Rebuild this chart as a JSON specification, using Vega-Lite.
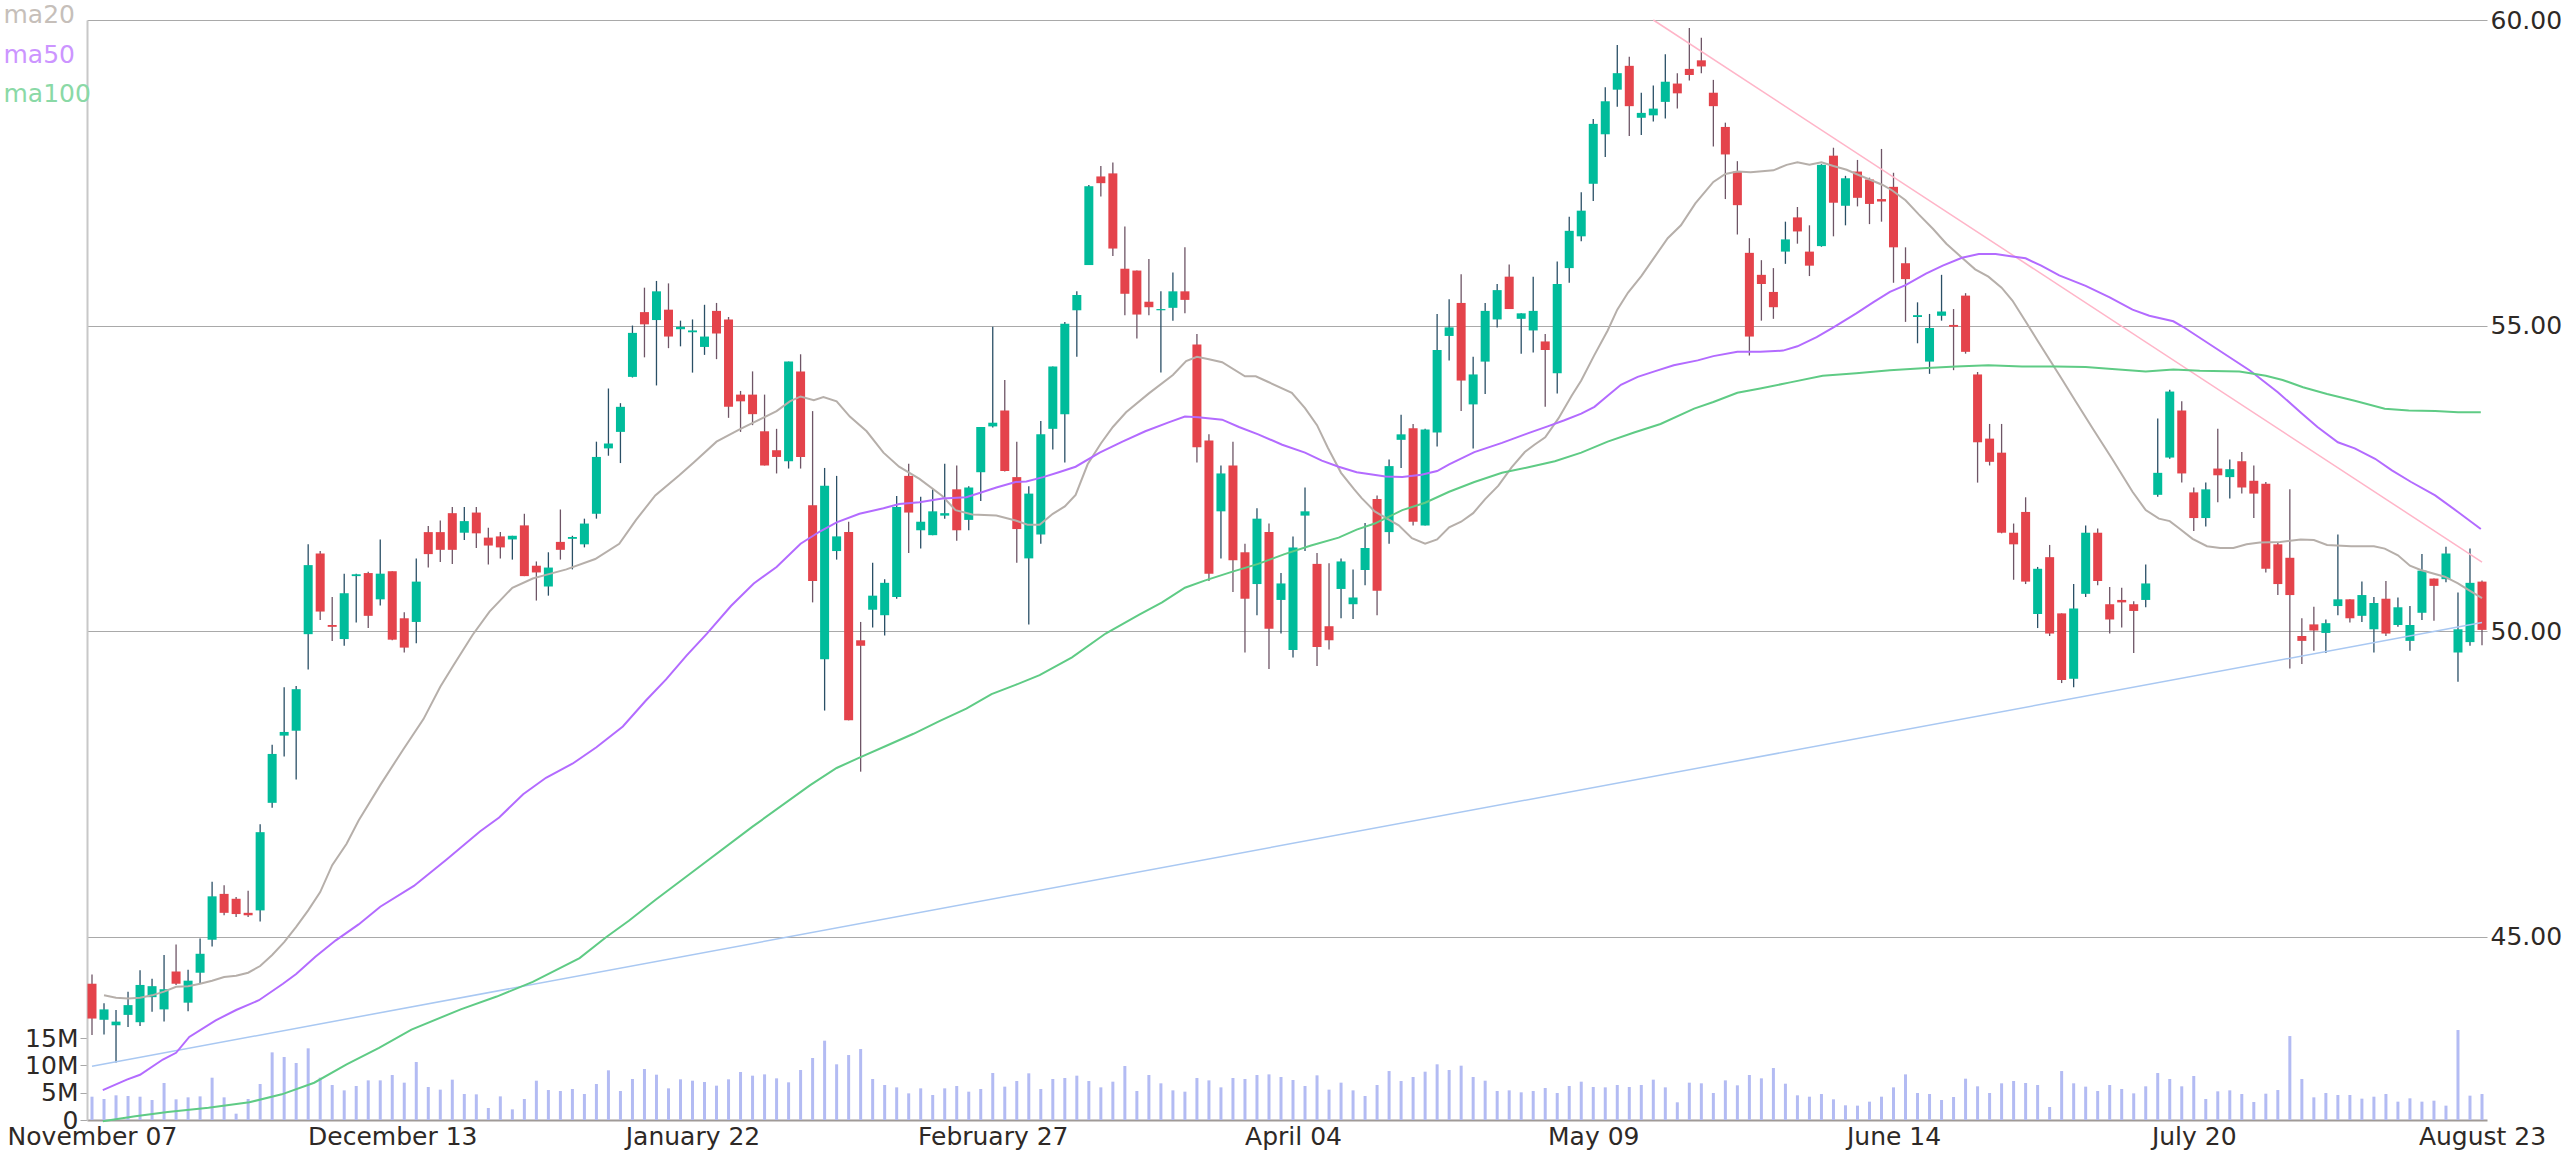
{
  "$schema": "https://vega.github.io/schema/vega-lite/v6.json",
  "width": 2400,
  "height": 1100,
  "autosize": "none",
  "padding": {"left": 87, "top": 20, "right": 77, "bottom": 33},
  "background": "white",
  "config": {"font": "DejaVu Sans", "view": {"stroke": null}},
  "datasets": {
    "k": [
      {"i":0,"o":44.23,"h":44.38,"l":43.39,"c":43.66,"v":4.27},
      {"i":1,"o":43.64,"h":43.91,"l":43.40,"c":43.81,"v":3.85},
      {"i":2,"o":43.55,"h":43.80,"l":42.94,"c":43.61,"v":4.52},
      {"i":3,"o":43.72,"h":44.10,"l":43.52,"c":43.88,"v":4.40},
      {"i":4,"o":43.60,"h":44.45,"l":43.54,"c":44.21,"v":4.27},
      {"i":5,"o":44.01,"h":44.31,"l":43.77,"c":44.19,"v":3.66},
      {"i":6,"o":43.81,"h":44.70,"l":43.61,"c":44.14,"v":6.78},
      {"i":7,"o":44.43,"h":44.87,"l":44.21,"c":44.23,"v":3.79},
      {"i":8,"o":43.92,"h":44.46,"l":43.78,"c":44.28,"v":4.15},
      {"i":9,"o":44.41,"h":44.97,"l":44.23,"c":44.72,"v":4.33},
      {"i":10,"o":44.95,"h":45.90,"l":44.84,"c":45.66,"v":7.75},
      {"i":11,"o":45.70,"h":45.84,"l":45.35,"c":45.39,"v":4.15},
      {"i":12,"o":45.62,"h":45.65,"l":45.32,"c":45.37,"v":1.16},
      {"i":13,"o":45.39,"h":45.75,"l":45.32,"c":45.35,"v":3.85},
      {"i":14,"o":45.43,"h":46.84,"l":45.25,"c":46.71,"v":6.59},
      {"i":15,"o":47.19,"h":48.14,"l":47.11,"c":47.99,"v":12.39},
      {"i":16,"o":48.29,"h":49.08,"l":47.95,"c":48.35,"v":11.54},
      {"i":17,"o":48.37,"h":49.10,"l":47.57,"c":49.05,"v":10.44},
      {"i":18,"o":49.95,"h":51.42,"l":49.37,"c":51.08,"v":13.13},
      {"i":19,"o":51.27,"h":51.31,"l":50.18,"c":50.32,"v":7.75},
      {"i":20,"o":50.10,"h":50.56,"l":49.84,"c":50.07,"v":6.41},
      {"i":21,"o":49.87,"h":50.94,"l":49.76,"c":50.62,"v":5.43},
      {"i":22,"o":50.90,"h":50.94,"l":50.14,"c":50.93,"v":6.23},
      {"i":23,"o":50.95,"h":50.97,"l":50.05,"c":50.25,"v":7.26},
      {"i":24,"o":50.52,"h":51.50,"l":50.42,"c":50.94,"v":7.26},
      {"i":25,"o":50.98,"h":50.98,"l":49.85,"c":49.86,"v":8.24},
      {"i":26,"o":50.21,"h":50.31,"l":49.65,"c":49.73,"v":6.84},
      {"i":27,"o":50.15,"h":51.19,"l":49.80,"c":50.81,"v":10.62},
      {"i":28,"o":51.62,"h":51.72,"l":51.04,"c":51.26,"v":6.04},
      {"i":29,"o":51.62,"h":51.81,"l":51.13,"c":51.33,"v":5.56},
      {"i":30,"o":51.93,"h":52.03,"l":51.10,"c":51.33,"v":7.39},
      {"i":31,"o":51.61,"h":52.03,"l":51.49,"c":51.80,"v":4.76},
      {"i":32,"o":51.94,"h":52.03,"l":51.36,"c":51.60,"v":4.70},
      {"i":33,"o":51.53,"h":51.69,"l":51.09,"c":51.40,"v":2.20},
      {"i":34,"o":51.55,"h":51.62,"l":51.19,"c":51.37,"v":4.33},
      {"i":35,"o":51.50,"h":51.56,"l":51.17,"c":51.56,"v":1.95},
      {"i":36,"o":51.73,"h":51.92,"l":50.90,"c":50.90,"v":3.85},
      {"i":37,"o":51.07,"h":51.14,"l":50.50,"c":50.96,"v":7.20},
      {"i":38,"o":50.73,"h":51.29,"l":50.58,"c":51.04,"v":5.49},
      {"i":39,"o":51.46,"h":51.99,"l":51.17,"c":51.33,"v":5.31},
      {"i":40,"o":51.51,"h":51.56,"l":51.01,"c":51.54,"v":5.68},
      {"i":41,"o":51.42,"h":51.84,"l":51.37,"c":51.76,"v":4.76},
      {"i":42,"o":51.92,"h":53.10,"l":51.84,"c":52.85,"v":6.59},
      {"i":43,"o":52.99,"h":53.97,"l":52.87,"c":53.07,"v":9.10},
      {"i":44,"o":53.26,"h":53.73,"l":52.75,"c":53.67,"v":5.31},
      {"i":45,"o":54.16,"h":55.00,"l":54.15,"c":54.88,"v":7.51},
      {"i":46,"o":55.22,"h":55.62,"l":54.48,"c":55.02,"v":9.34},
      {"i":47,"o":55.09,"h":55.73,"l":54.02,"c":55.56,"v":8.30},
      {"i":48,"o":55.26,"h":55.69,"l":54.63,"c":54.82,"v":5.80},
      {"i":49,"o":54.94,"h":55.08,"l":54.66,"c":54.98,"v":7.45},
      {"i":50,"o":54.89,"h":55.10,"l":54.23,"c":54.92,"v":7.20},
      {"i":51,"o":54.65,"h":55.34,"l":54.52,"c":54.82,"v":6.96},
      {"i":52,"o":55.24,"h":55.37,"l":54.45,"c":54.87,"v":6.29},
      {"i":53,"o":55.10,"h":55.14,"l":53.49,"c":53.67,"v":7.45},
      {"i":54,"o":53.87,"h":53.93,"l":53.26,"c":53.76,"v":8.79},
      {"i":55,"o":53.87,"h":54.25,"l":53.37,"c":53.55,"v":8.12},
      {"i":56,"o":53.27,"h":53.87,"l":52.71,"c":52.71,"v":8.36},
      {"i":57,"o":52.96,"h":53.31,"l":52.58,"c":52.85,"v":7.63},
      {"i":58,"o":52.78,"h":54.41,"l":52.66,"c":54.41,"v":6.90},
      {"i":59,"o":54.25,"h":54.53,"l":52.66,"c":52.85,"v":9.16},
      {"i":60,"o":52.06,"h":53.60,"l":50.47,"c":50.82,"v":11.36},
      {"i":61,"o":49.54,"h":52.67,"l":48.70,"c":52.38,"v":14.53},
      {"i":62,"o":51.31,"h":52.54,"l":51.17,"c":51.55,"v":10.20},
      {"i":63,"o":51.62,"h":51.79,"l":48.54,"c":48.54,"v":11.90},
      {"i":64,"o":49.85,"h":50.15,"l":47.70,"c":49.76,"v":13.00},
      {"i":65,"o":50.35,"h":51.12,"l":50.06,"c":50.58,"v":7.51},
      {"i":66,"o":50.26,"h":50.85,"l":49.93,"c":50.79,"v":6.41},
      {"i":67,"o":50.56,"h":52.21,"l":50.53,"c":52.03,"v":5.98},
      {"i":68,"o":52.54,"h":52.74,"l":51.28,"c":51.94,"v":4.88},
      {"i":69,"o":51.65,"h":52.20,"l":51.35,"c":51.79,"v":5.80},
      {"i":70,"o":51.57,"h":52.33,"l":51.57,"c":51.96,"v":4.58},
      {"i":71,"o":51.89,"h":52.74,"l":51.84,"c":51.93,"v":5.80},
      {"i":72,"o":52.32,"h":52.71,"l":51.48,"c":51.65,"v":6.23},
      {"i":73,"o":51.82,"h":52.37,"l":51.65,"c":52.35,"v":5.19},
      {"i":74,"o":52.60,"h":53.34,"l":52.13,"c":53.34,"v":5.68},
      {"i":75,"o":53.35,"h":54.98,"l":53.33,"c":53.41,"v":8.61},
      {"i":76,"o":53.61,"h":54.11,"l":52.61,"c":52.62,"v":6.11},
      {"i":77,"o":52.52,"h":53.10,"l":51.12,"c":51.67,"v":7.14},
      {"i":78,"o":51.19,"h":52.37,"l":50.11,"c":52.25,"v":8.55},
      {"i":79,"o":51.58,"h":53.44,"l":51.43,"c":53.22,"v":5.68},
      {"i":80,"o":53.31,"h":54.33,"l":52.97,"c":54.33,"v":7.51},
      {"i":81,"o":53.55,"h":55.06,"l":52.76,"c":55.03,"v":7.69},
      {"i":82,"o":55.25,"h":55.56,"l":54.49,"c":55.50,"v":8.12},
      {"i":83,"o":55.99,"h":57.30,"l":55.99,"c":57.28,"v":7.14},
      {"i":84,"o":57.44,"h":57.61,"l":57.11,"c":57.33,"v":5.98},
      {"i":85,"o":57.49,"h":57.67,"l":56.14,"c":56.26,"v":7.02},
      {"i":86,"o":55.93,"h":56.62,"l":55.17,"c":55.52,"v":9.89},
      {"i":87,"o":55.90,"h":55.90,"l":54.79,"c":55.18,"v":5.31},
      {"i":88,"o":55.39,"h":56.09,"l":55.17,"c":55.30,"v":8.24},
      {"i":89,"o":55.25,"h":55.56,"l":54.23,"c":55.27,"v":6.72},
      {"i":90,"o":55.29,"h":55.87,"l":55.08,"c":55.56,"v":5.43},
      {"i":91,"o":55.56,"h":56.28,"l":55.20,"c":55.42,"v":5.19},
      {"i":92,"o":54.69,"h":54.86,"l":52.76,"c":53.01,"v":7.69},
      {"i":93,"o":53.12,"h":53.22,"l":50.82,"c":50.94,"v":7.26},
      {"i":94,"o":51.96,"h":52.71,"l":51.19,"c":52.58,"v":5.98},
      {"i":95,"o":52.71,"h":53.10,"l":50.64,"c":51.16,"v":7.69},
      {"i":96,"o":51.29,"h":51.43,"l":49.65,"c":50.53,"v":7.51},
      {"i":97,"o":50.77,"h":52.01,"l":50.26,"c":51.84,"v":8.24},
      {"i":98,"o":51.62,"h":51.76,"l":49.38,"c":50.04,"v":8.36},
      {"i":99,"o":50.51,"h":50.95,"l":49.96,"c":50.78,"v":7.88},
      {"i":100,"o":49.69,"h":51.55,"l":49.57,"c":51.37,"v":7.33},
      {"i":101,"o":51.89,"h":52.35,"l":51.31,"c":51.96,"v":6.23},
      {"i":102,"o":51.10,"h":51.28,"l":49.43,"c":49.74,"v":8.18},
      {"i":103,"o":50.08,"h":51.11,"l":49.70,"c":49.85,"v":5.56},
      {"i":104,"o":50.69,"h":51.19,"l":50.21,"c":51.14,"v":6.84},
      {"i":105,"o":50.44,"h":51.01,"l":50.20,"c":50.55,"v":5.43},
      {"i":106,"o":51.00,"h":51.77,"l":50.75,"c":51.36,"v":4.40},
      {"i":107,"o":52.16,"h":52.22,"l":50.26,"c":50.66,"v":6.41},
      {"i":108,"o":51.62,"h":52.81,"l":51.43,"c":52.70,"v":8.97},
      {"i":109,"o":53.13,"h":53.54,"l":52.67,"c":53.22,"v":7.14},
      {"i":110,"o":53.32,"h":53.39,"l":51.73,"c":51.79,"v":7.88},
      {"i":111,"o":51.73,"h":53.31,"l":51.73,"c":53.30,"v":8.85},
      {"i":112,"o":53.25,"h":55.19,"l":53.02,"c":54.60,"v":10.20},
      {"i":113,"o":54.83,"h":55.43,"l":54.43,"c":54.97,"v":9.16},
      {"i":114,"o":55.37,"h":55.84,"l":53.60,"c":54.10,"v":9.95},
      {"i":115,"o":53.71,"h":54.49,"l":52.99,"c":54.20,"v":7.88},
      {"i":116,"o":54.41,"h":55.37,"l":53.88,"c":55.24,"v":7.20},
      {"i":117,"o":55.10,"h":55.68,"l":54.97,"c":55.58,"v":5.31},
      {"i":118,"o":55.80,"h":56.00,"l":55.27,"c":55.27,"v":5.43},
      {"i":119,"o":55.11,"h":55.20,"l":54.54,"c":55.20,"v":5.07},
      {"i":120,"o":54.92,"h":55.80,"l":54.56,"c":55.24,"v":5.31},
      {"i":121,"o":54.74,"h":54.86,"l":53.67,"c":54.60,"v":5.86},
      {"i":122,"o":54.22,"h":56.05,"l":53.89,"c":55.68,"v":4.95},
      {"i":123,"o":55.94,"h":56.78,"l":55.70,"c":56.55,"v":6.23},
      {"i":124,"o":56.46,"h":57.18,"l":56.38,"c":56.88,"v":7.02},
      {"i":125,"o":57.32,"h":58.38,"l":57.04,"c":58.30,"v":6.04},
      {"i":126,"o":58.13,"h":58.90,"l":57.76,"c":58.67,"v":5.98},
      {"i":127,"o":58.86,"h":59.59,"l":58.58,"c":59.13,"v":6.41},
      {"i":128,"o":59.25,"h":59.40,"l":58.10,"c":58.59,"v":6.04},
      {"i":129,"o":58.40,"h":58.81,"l":58.12,"c":58.48,"v":6.41},
      {"i":130,"o":58.44,"h":58.93,"l":58.34,"c":58.55,"v":7.39},
      {"i":131,"o":58.66,"h":59.44,"l":58.39,"c":58.99,"v":5.98},
      {"i":132,"o":58.96,"h":59.13,"l":58.55,"c":58.80,"v":3.24},
      {"i":133,"o":59.20,"h":59.87,"l":59.01,"c":59.10,"v":6.84},
      {"i":134,"o":59.34,"h":59.71,"l":59.13,"c":59.24,"v":6.72},
      {"i":135,"o":58.81,"h":59.02,"l":57.93,"c":58.59,"v":4.95},
      {"i":136,"o":58.25,"h":58.32,"l":57.07,"c":57.80,"v":7.26},
      {"i":137,"o":57.52,"h":57.69,"l":56.49,"c":56.97,"v":6.35},
      {"i":138,"o":56.19,"h":56.43,"l":54.51,"c":54.82,"v":8.24},
      {"i":139,"o":55.83,"h":56.07,"l":55.08,"c":55.68,"v":7.63},
      {"i":140,"o":55.55,"h":55.94,"l":55.11,"c":55.30,"v":9.52},
      {"i":141,"o":56.21,"h":56.70,"l":56.01,"c":56.41,"v":6.65},
      {"i":142,"o":56.77,"h":56.94,"l":56.34,"c":56.54,"v":4.52},
      {"i":143,"o":56.21,"h":56.64,"l":55.81,"c":55.98,"v":4.27},
      {"i":144,"o":56.30,"h":57.64,"l":56.29,"c":57.63,"v":4.76},
      {"i":145,"o":57.78,"h":57.91,"l":56.46,"c":57.01,"v":3.79},
      {"i":146,"o":56.96,"h":57.45,"l":56.64,"c":57.41,"v":2.69},
      {"i":147,"o":57.52,"h":57.71,"l":56.95,"c":57.09,"v":2.63},
      {"i":148,"o":57.39,"h":57.42,"l":56.66,"c":56.99,"v":3.36},
      {"i":149,"o":57.07,"h":57.89,"l":56.70,"c":57.03,"v":4.27},
      {"i":150,"o":57.27,"h":57.50,"l":55.70,"c":56.28,"v":5.98},
      {"i":151,"o":56.02,"h":56.28,"l":55.06,"c":55.76,"v":8.36},
      {"i":152,"o":55.14,"h":55.38,"l":54.71,"c":55.17,"v":4.95},
      {"i":153,"o":54.41,"h":55.19,"l":54.21,"c":54.96,"v":4.76},
      {"i":154,"o":55.16,"h":55.83,"l":55.08,"c":55.23,"v":3.66},
      {"i":155,"o":55.01,"h":55.27,"l":54.27,"c":54.98,"v":4.21},
      {"i":156,"o":55.49,"h":55.53,"l":54.54,"c":54.57,"v":7.57},
      {"i":157,"o":54.20,"h":54.24,"l":52.43,"c":53.09,"v":6.17},
      {"i":158,"o":53.15,"h":53.39,"l":52.71,"c":52.77,"v":4.95},
      {"i":159,"o":52.92,"h":53.39,"l":51.60,"c":51.61,"v":6.72},
      {"i":160,"o":51.61,"h":51.76,"l":50.84,"c":51.42,"v":7.14},
      {"i":161,"o":51.95,"h":52.19,"l":50.77,"c":50.81,"v":6.78},
      {"i":162,"o":50.28,"h":51.05,"l":50.05,"c":51.02,"v":6.41},
      {"i":163,"o":51.21,"h":51.41,"l":49.92,"c":49.96,"v":2.38},
      {"i":164,"o":50.29,"h":50.29,"l":49.15,"c":49.20,"v":8.97},
      {"i":165,"o":49.22,"h":50.77,"l":49.08,"c":50.37,"v":6.72},
      {"i":166,"o":50.61,"h":51.73,"l":50.56,"c":51.61,"v":6.11},
      {"i":167,"o":51.61,"h":51.68,"l":50.75,"c":50.82,"v":5.31},
      {"i":168,"o":50.44,"h":50.72,"l":49.96,"c":50.19,"v":6.41},
      {"i":169,"o":50.51,"h":50.71,"l":50.06,"c":50.47,"v":5.68},
      {"i":170,"o":50.44,"h":50.49,"l":49.64,"c":50.33,"v":4.88},
      {"i":171,"o":50.51,"h":51.09,"l":50.39,"c":50.78,"v":6.17},
      {"i":172,"o":52.23,"h":53.48,"l":52.20,"c":52.59,"v":8.61},
      {"i":173,"o":52.84,"h":53.95,"l":52.82,"c":53.92,"v":7.51},
      {"i":174,"o":53.61,"h":53.76,"l":52.43,"c":52.58,"v":6.17},
      {"i":175,"o":52.27,"h":52.35,"l":51.64,"c":51.85,"v":8.06},
      {"i":176,"o":51.85,"h":52.43,"l":51.71,"c":52.32,"v":3.85},
      {"i":177,"o":52.66,"h":53.31,"l":52.11,"c":52.55,"v":5.25},
      {"i":178,"o":52.52,"h":52.81,"l":52.17,"c":52.65,"v":5.43},
      {"i":179,"o":52.78,"h":52.93,"l":52.25,"c":52.35,"v":4.76},
      {"i":180,"o":52.46,"h":52.71,"l":51.85,"c":52.25,"v":3.30},
      {"i":181,"o":52.41,"h":52.44,"l":50.96,"c":51.02,"v":4.82},
      {"i":182,"o":51.42,"h":51.46,"l":50.59,"c":50.77,"v":5.49},
      {"i":183,"o":51.20,"h":52.32,"l":49.39,"c":50.59,"v":15.38},
      {"i":184,"o":49.92,"h":50.21,"l":49.46,"c":49.84,"v":7.51},
      {"i":185,"o":50.11,"h":50.40,"l":49.68,"c":50.01,"v":4.15},
      {"i":186,"o":49.97,"h":50.19,"l":49.64,"c":50.13,"v":4.95},
      {"i":187,"o":50.41,"h":51.58,"l":50.26,"c":50.52,"v":4.58},
      {"i":188,"o":50.52,"h":50.52,"l":50.14,"c":50.21,"v":4.58},
      {"i":189,"o":50.25,"h":50.81,"l":50.15,"c":50.59,"v":3.91},
      {"i":190,"o":50.03,"h":50.56,"l":49.65,"c":50.46,"v":4.27},
      {"i":191,"o":50.53,"h":50.82,"l":49.92,"c":49.96,"v":4.76},
      {"i":192,"o":50.10,"h":50.55,"l":50.07,"c":50.39,"v":3.36},
      {"i":193,"o":49.84,"h":50.41,"l":49.68,"c":50.10,"v":3.97},
      {"i":194,"o":50.30,"h":51.26,"l":50.18,"c":50.99,"v":3.36},
      {"i":195,"o":50.86,"h":50.86,"l":50.17,"c":50.74,"v":3.54},
      {"i":196,"o":50.85,"h":51.38,"l":50.80,"c":51.27,"v":2.63},
      {"i":197,"o":49.65,"h":50.63,"l":49.17,"c":50.03,"v":16.48},
      {"i":198,"o":49.82,"h":51.35,"l":49.76,"c":50.79,"v":4.46},
      {"i":199,"o":50.81,"h":50.83,"l":49.77,"c":50.02,"v":4.76}
    ],
    "ma": [
      {"s":"ma20","i":1,"v":44.04},{"s":"ma20","i":2,"v":44.0},{"s":"ma20","i":3,"v":43.99},{"s":"ma20","i":4,"v":44.0},
      {"s":"ma20","i":5,"v":44.04},{"s":"ma20","i":6,"v":44.1},{"s":"ma20","i":7,"v":44.18},{"s":"ma20","i":8,"v":44.19},
      {"s":"ma20","i":9,"v":44.23},{"s":"ma20","i":10,"v":44.28},{"s":"ma20","i":11,"v":44.34},{"s":"ma20","i":12,"v":44.36},
      {"s":"ma20","i":13,"v":44.41},{"s":"ma20","i":14,"v":44.52},{"s":"ma20","i":15,"v":44.7},{"s":"ma20","i":16,"v":44.91},
      {"s":"ma20","i":17,"v":45.16},{"s":"ma20","i":18,"v":45.43},{"s":"ma20","i":19,"v":45.73},{"s":"ma20","i":20,"v":46.17},
      {"s":"ma20","i":21.2,"v":46.52},{"s":"ma20","i":22.2,"v":46.9},{"s":"ma20","i":24,"v":47.48},{"s":"ma20","i":25.9,"v":48.06},
      {"s":"ma20","i":27.6,"v":48.56},{"s":"ma20","i":29,"v":49.09},{"s":"ma20","i":30.1,"v":49.44},{"s":"ma20","i":31.7,"v":49.94},
      {"s":"ma20","i":33.1,"v":50.32},{"s":"ma20","i":35,"v":50.71},{"s":"ma20","i":36.7,"v":50.86},{"s":"ma20","i":37.8,"v":50.92},
      {"s":"ma20","i":39.5,"v":51.01},{"s":"ma20","i":41.9,"v":51.18},{"s":"ma20","i":43.9,"v":51.43},{"s":"ma20","i":45.3,"v":51.82},
      {"s":"ma20","i":46.9,"v":52.22},{"s":"ma20","i":48.9,"v":52.55},{"s":"ma20","i":50.1,"v":52.76},{"s":"ma20","i":52,"v":53.1},
      {"s":"ma20","i":54,"v":53.31},{"s":"ma20","i":57,"v":53.6},{"s":"ma20","i":58.1,"v":53.76},{"s":"ma20","i":59,"v":53.84},
      {"s":"ma20","i":60.1,"v":53.78},{"s":"ma20","i":60.9,"v":53.83},{"s":"ma20","i":62,"v":53.76},{"s":"ma20","i":63.1,"v":53.51},
      {"s":"ma20","i":64.5,"v":53.27},{"s":"ma20","i":65.9,"v":52.92},{"s":"ma20","i":67.2,"v":52.69},{"s":"ma20","i":68.9,"v":52.49},
      {"s":"ma20","i":70.8,"v":52.21},{"s":"ma20","i":71.9,"v":51.98},{"s":"ma20","i":73.3,"v":51.91},{"s":"ma20","i":75.3,"v":51.89},
      {"s":"ma20","i":76.9,"v":51.81},{"s":"ma20","i":77.9,"v":51.74},{"s":"ma20","i":78.9,"v":51.74},{"s":"ma20","i":80,"v":51.92},
      {"s":"ma20","i":81,"v":52.04},{"s":"ma20","i":81.9,"v":52.23},{"s":"ma20","i":82.9,"v":52.73},{"s":"ma20","i":84,"v":53.07},
      {"s":"ma20","i":85,"v":53.34},{"s":"ma20","i":86.1,"v":53.58},{"s":"ma20","i":88,"v":53.89},{"s":"ma20","i":90,"v":54.19},
      {"s":"ma20","i":91.1,"v":54.42},{"s":"ma20","i":92,"v":54.49},{"s":"ma20","i":93,"v":54.45},{"s":"ma20","i":94.1,"v":54.4},
      {"s":"ma20","i":96,"v":54.17},{"s":"ma20","i":96.9,"v":54.17},{"s":"ma20","i":97.9,"v":54.08},{"s":"ma20","i":99.9,"v":53.9},
      {"s":"ma20","i":101,"v":53.65},{"s":"ma20","i":102,"v":53.37},{"s":"ma20","i":102.9,"v":53.0},{"s":"ma20","i":104,"v":52.59},
      {"s":"ma20","i":105.1,"v":52.32},{"s":"ma20","i":105.7,"v":52.18},{"s":"ma20","i":106.8,"v":51.96},{"s":"ma20","i":108.8,"v":51.73},
      {"s":"ma20","i":109.9,"v":51.52},{"s":"ma20","i":111,"v":51.43},{"s":"ma20","i":112,"v":51.5},{"s":"ma20","i":113,"v":51.7},
      {"s":"ma20","i":114,"v":51.79},{"s":"ma20","i":115,"v":51.93},{"s":"ma20","i":116,"v":52.16},{"s":"ma20","i":117.1,"v":52.38},
      {"s":"ma20","i":118.2,"v":52.68},{"s":"ma20","i":119.3,"v":52.93},{"s":"ma20","i":120.1,"v":53.05},{"s":"ma20","i":121,"v":53.17},
      {"s":"ma20","i":122.1,"v":53.48},{"s":"ma20","i":123.2,"v":53.85},{"s":"ma20","i":124,"v":54.1},{"s":"ma20","i":125.1,"v":54.52},
      {"s":"ma20","i":126.2,"v":54.92},{"s":"ma20","i":127,"v":55.26},{"s":"ma20","i":127.9,"v":55.54},{"s":"ma20","i":129,"v":55.81},
      {"s":"ma20","i":130.1,"v":56.12},{"s":"ma20","i":131.2,"v":56.43},{"s":"ma20","i":132.3,"v":56.64},{"s":"ma20","i":133.5,"v":57.0},
      {"s":"ma20","i":135,"v":57.35},{"s":"ma20","i":136,"v":57.48},{"s":"ma20","i":137,"v":57.52},{"s":"ma20","i":138.1,"v":57.51},
      {"s":"ma20","i":140,"v":57.54},{"s":"ma20","i":141.1,"v":57.63},{"s":"ma20","i":142,"v":57.67},{"s":"ma20","i":143,"v":57.63},
      {"s":"ma20","i":144,"v":57.67},{"s":"ma20","i":145,"v":57.61},{"s":"ma20","i":146.1,"v":57.55},{"s":"ma20","i":146.9,"v":57.48},
      {"s":"ma20","i":148,"v":57.39},{"s":"ma20","i":149.1,"v":57.3},{"s":"ma20","i":149.9,"v":57.21},{"s":"ma20","i":151,"v":57.05},
      {"s":"ma20","i":152.1,"v":56.82},{"s":"ma20","i":153.3,"v":56.58},{"s":"ma20","i":154.4,"v":56.34},{"s":"ma20","i":155.7,"v":56.11},
      {"s":"ma20","i":156.8,"v":55.92},{"s":"ma20","i":157.9,"v":55.8},{"s":"ma20","i":159,"v":55.62},{"s":"ma20","i":159.9,"v":55.41},
      {"s":"ma20","i":160.9,"v":55.1},{"s":"ma20","i":162,"v":54.75},{"s":"ma20","i":164,"v":54.13},{"s":"ma20","i":165.2,"v":53.75},
      {"s":"ma20","i":166.6,"v":53.31},{"s":"ma20","i":168.2,"v":52.82},{"s":"ma20","i":169.9,"v":52.28},{"s":"ma20","i":171,"v":51.98},
      {"s":"ma20","i":172.1,"v":51.84},{"s":"ma20","i":173,"v":51.8},{"s":"ma20","i":173.8,"v":51.68},{"s":"ma20","i":174.9,"v":51.51},
      {"s":"ma20","i":176.1,"v":51.39},{"s":"ma20","i":177.2,"v":51.36},{"s":"ma20","i":178.3,"v":51.36},{"s":"ma20","i":179.4,"v":51.42},
      {"s":"ma20","i":180.5,"v":51.45},{"s":"ma20","i":182.2,"v":51.46},{"s":"ma20","i":183.9,"v":51.5},{"s":"ma20","i":185,"v":51.49},
      {"s":"ma20","i":186.1,"v":51.41},{"s":"ma20","i":188.1,"v":51.39},{"s":"ma20","i":190,"v":51.39},{"s":"ma20","i":190.9,"v":51.35},
      {"s":"ma20","i":192,"v":51.24},{"s":"ma20","i":193,"v":51.07},{"s":"ma20","i":193.9,"v":51.0},{"s":"ma20","i":195.9,"v":50.89},
      {"s":"ma20","i":197,"v":50.78},{"s":"ma20","i":197.9,"v":50.67},{"s":"ma20","i":199,"v":50.54},
      {"s":"ma50","i":0.9,"v":42.49},{"s":"ma50","i":2.9,"v":42.66},{"s":"ma50","i":4,"v":42.74},{"s":"ma50","i":5.9,"v":42.99},
      {"s":"ma50","i":7,"v":43.1},{"s":"ma50","i":8.1,"v":43.36},{"s":"ma50","i":10.3,"v":43.63},{"s":"ma50","i":12,"v":43.8},
      {"s":"ma50","i":13.9,"v":43.96},{"s":"ma50","i":15.9,"v":44.23},{"s":"ma50","i":17,"v":44.39},{"s":"ma50","i":18.6,"v":44.67},
      {"s":"ma50","i":20.3,"v":44.94},{"s":"ma50","i":22.2,"v":45.2},{"s":"ma50","i":24,"v":45.49},{"s":"ma50","i":26.8,"v":45.83},
      {"s":"ma50","i":29.5,"v":46.26},{"s":"ma50","i":32.3,"v":46.72},{"s":"ma50","i":33.9,"v":46.95},{"s":"ma50","i":35.9,"v":47.33},
      {"s":"ma50","i":37.8,"v":47.6},{"s":"ma50","i":40,"v":47.83},{"s":"ma50","i":42,"v":48.1},{"s":"ma50","i":44.2,"v":48.44},
      {"s":"ma50","i":46.1,"v":48.86},{"s":"ma50","i":47.8,"v":49.21},{"s":"ma50","i":49.5,"v":49.6},{"s":"ma50","i":51.2,"v":49.96},
      {"s":"ma50","i":53.2,"v":50.41},{"s":"ma50","i":55.1,"v":50.78},{"s":"ma50","i":57,"v":51.05},{"s":"ma50","i":59,"v":51.43},
      {"s":"ma50","i":60.6,"v":51.63},{"s":"ma50","i":62,"v":51.78},{"s":"ma50","i":63.9,"v":51.92},{"s":"ma50","i":65.9,"v":52.01},
      {"s":"ma50","i":67.2,"v":52.08},{"s":"ma50","i":68.9,"v":52.11},{"s":"ma50","i":70.8,"v":52.17},{"s":"ma50","i":72.8,"v":52.19},
      {"s":"ma50","i":73.9,"v":52.26},{"s":"ma50","i":75.3,"v":52.35},{"s":"ma50","i":76.9,"v":52.44},{"s":"ma50","i":77.8,"v":52.45},
      {"s":"ma50","i":79.2,"v":52.52},{"s":"ma50","i":80.5,"v":52.6},{"s":"ma50","i":81.9,"v":52.69},{"s":"ma50","i":83.9,"v":52.92},
      {"s":"ma50","i":85.8,"v":53.1},{"s":"ma50","i":87.7,"v":53.27},{"s":"ma50","i":89.7,"v":53.42},{"s":"ma50","i":91,"v":53.51},
      {"s":"ma50","i":92.1,"v":53.5},{"s":"ma50","i":94.1,"v":53.46},{"s":"ma50","i":95.5,"v":53.34},{"s":"ma50","i":97.1,"v":53.22},
      {"s":"ma50","i":99.1,"v":53.05},{"s":"ma50","i":101,"v":52.92},{"s":"ma50","i":102.4,"v":52.79},{"s":"ma50","i":103.8,"v":52.69},
      {"s":"ma50","i":105.3,"v":52.6},{"s":"ma50","i":106.3,"v":52.57},{"s":"ma50","i":107.7,"v":52.53},{"s":"ma50","i":109.1,"v":52.52},
      {"s":"ma50","i":110.7,"v":52.56},{"s":"ma50","i":112,"v":52.62},{"s":"ma50","i":113,"v":52.73},{"s":"ma50","i":115.1,"v":52.93},
      {"s":"ma50","i":117.4,"v":53.08},{"s":"ma50","i":119.6,"v":53.24},{"s":"ma50","i":121.2,"v":53.35},{"s":"ma50","i":122.6,"v":53.45},
      {"s":"ma50","i":124,"v":53.56},{"s":"ma50","i":125.1,"v":53.67},{"s":"ma50","i":126.2,"v":53.85},{"s":"ma50","i":127.3,"v":54.03},
      {"s":"ma50","i":128.7,"v":54.16},{"s":"ma50","i":130.1,"v":54.25},{"s":"ma50","i":131.7,"v":54.35},{"s":"ma50","i":133.7,"v":54.43},
      {"s":"ma50","i":135,"v":54.5},{"s":"ma50","i":137,"v":54.57},{"s":"ma50","i":138.9,"v":54.57},{"s":"ma50","i":140.8,"v":54.59},
      {"s":"ma50","i":142,"v":54.66},{"s":"ma50","i":143.6,"v":54.81},{"s":"ma50","i":145,"v":54.97},{"s":"ma50","i":146.9,"v":55.2},
      {"s":"ma50","i":148.3,"v":55.38},{"s":"ma50","i":149.7,"v":55.55},{"s":"ma50","i":151,"v":55.66},{"s":"ma50","i":152.7,"v":55.85},
      {"s":"ma50","i":154.1,"v":55.98},{"s":"ma50","i":155.7,"v":56.11},{"s":"ma50","i":157.1,"v":56.17},{"s":"ma50","i":158.5,"v":56.17},
      {"s":"ma50","i":159.9,"v":56.13},{"s":"ma50","i":161,"v":56.1},{"s":"ma50","i":162.3,"v":55.98},{"s":"ma50","i":163.8,"v":55.82},
      {"s":"ma50","i":166,"v":55.65},{"s":"ma50","i":168,"v":55.46},{"s":"ma50","i":169.9,"v":55.26},{"s":"ma50","i":171.3,"v":55.16},
      {"s":"ma50","i":173.3,"v":55.07},{"s":"ma50","i":174.1,"v":54.98},{"s":"ma50","i":176.9,"v":54.62},{"s":"ma50","i":179.7,"v":54.26},
      {"s":"ma50","i":182,"v":53.91},{"s":"ma50","i":184,"v":53.56},{"s":"ma50","i":185.3,"v":53.34},{"s":"ma50","i":187,"v":53.09},
      {"s":"ma50","i":188.4,"v":52.99},{"s":"ma50","i":190.1,"v":52.82},{"s":"ma50","i":191.5,"v":52.63},{"s":"ma50","i":193.1,"v":52.44},
      {"s":"ma50","i":195.1,"v":52.22},{"s":"ma50","i":197,"v":51.95},{"s":"ma50","i":198.9,"v":51.67},
      {"s":"ma100","i":0.9,"v":41.98},{"s":"ma100","i":3.6,"v":42.06},{"s":"ma100","i":6.3,"v":42.13},{"s":"ma100","i":9.7,"v":42.2},
      {"s":"ma100","i":13.1,"v":42.29},{"s":"ma100","i":15.8,"v":42.42},{"s":"ma100","i":18.5,"v":42.61},{"s":"ma100","i":21.2,"v":42.91},
      {"s":"ma100","i":23.9,"v":43.18},{"s":"ma100","i":26.6,"v":43.48},{"s":"ma100","i":30.7,"v":43.81},{"s":"ma100","i":33.7,"v":44.02},
      {"s":"ma100","i":36.7,"v":44.26},{"s":"ma100","i":40.6,"v":44.65},{"s":"ma100","i":42.8,"v":44.99},{"s":"ma100","i":44.7,"v":45.26},
      {"s":"ma100","i":46.9,"v":45.6},{"s":"ma100","i":49.8,"v":46.03},{"s":"ma100","i":55,"v":46.8},{"s":"ma100","i":59.8,"v":47.48},
      {"s":"ma100","i":62,"v":47.76},{"s":"ma100","i":63.9,"v":47.93},{"s":"ma100","i":66.1,"v":48.12},{"s":"ma100","i":68.4,"v":48.32},
      {"s":"ma100","i":70.6,"v":48.53},{"s":"ma100","i":72.8,"v":48.73},{"s":"ma100","i":74.9,"v":48.97},{"s":"ma100","i":76.9,"v":49.12},
      {"s":"ma100","i":78.9,"v":49.28},{"s":"ma100","i":81.6,"v":49.57},{"s":"ma100","i":84.4,"v":49.96},{"s":"ma100","i":87.2,"v":50.27},
      {"s":"ma100","i":89.1,"v":50.47},{"s":"ma100","i":91,"v":50.71},{"s":"ma100","i":92.7,"v":50.83},{"s":"ma100","i":94.9,"v":50.97},
      {"s":"ma100","i":97.1,"v":51.1},{"s":"ma100","i":99.3,"v":51.26},{"s":"ma100","i":101.5,"v":51.4},{"s":"ma100","i":103.8,"v":51.53},
      {"s":"ma100","i":105.3,"v":51.66},{"s":"ma100","i":106.8,"v":51.76},{"s":"ma100","i":109.1,"v":51.98},{"s":"ma100","i":111,"v":52.1},
      {"s":"ma100","i":113,"v":52.28},{"s":"ma100","i":115.1,"v":52.44},{"s":"ma100","i":117.4,"v":52.59},{"s":"ma100","i":119.6,"v":52.68},
      {"s":"ma100","i":121.8,"v":52.78},{"s":"ma100","i":124,"v":52.92},{"s":"ma100","i":126.2,"v":53.1},{"s":"ma100","i":128.4,"v":53.25},
      {"s":"ma100","i":130.6,"v":53.39},{"s":"ma100","i":133.4,"v":53.64},{"s":"ma100","i":135,"v":53.75},{"s":"ma100","i":137,"v":53.9},
      {"s":"ma100","i":138.9,"v":53.97},{"s":"ma100","i":141.4,"v":54.07},{"s":"ma100","i":144.1,"v":54.18},{"s":"ma100","i":146.9,"v":54.22},
      {"s":"ma100","i":149.7,"v":54.27},{"s":"ma100","i":152.4,"v":54.3},{"s":"ma100","i":155.2,"v":54.33},{"s":"ma100","i":157.9,"v":54.35},
      {"s":"ma100","i":160.7,"v":54.33},{"s":"ma100","i":163.5,"v":54.33},{"s":"ma100","i":166,"v":54.32},{"s":"ma100","i":168.2,"v":54.29},
      {"s":"ma100","i":171,"v":54.25},{"s":"ma100","i":173.3,"v":54.28},{"s":"ma100","i":175.5,"v":54.26},{"s":"ma100","i":178.8,"v":54.25},
      {"s":"ma100","i":181,"v":54.18},{"s":"ma100","i":182.4,"v":54.11},{"s":"ma100","i":184.1,"v":53.99},{"s":"ma100","i":186.1,"v":53.88},
      {"s":"ma100","i":188.4,"v":53.77},{"s":"ma100","i":190.9,"v":53.64},{"s":"ma100","i":192.9,"v":53.61},{"s":"ma100","i":195.1,"v":53.6},
      {"s":"ma100","i":197,"v":53.58},{"s":"ma100","i":198.9,"v":53.58}
    ],
    "tl": [
      {"s":"down","i":130,"v":60.0},{"s":"down","i":199,"v":51.13},
      {"s":"up","i":0,"v":42.88},{"s":"up","i":199,"v":50.14}
    ],
    "lg": [{"s":"ma20"},{"s":"ma50"},{"s":"ma100"}]
  },
  "encoding": {
    "x": {
      "field": "i",
      "type": "quantitative",
      "scale": {"domain": [0, 199], "nice": false, "zero": false},
      "axis": {
        "orient": "bottom",
        "values": [0, 25, 50, 75, 100, 125, 150, 175, 199],
        "labelExpr": "datum.value == 199 ? 'August 23' : ['November 07','December 13','January 22','February 27','April 04','May 09','June 14','July 20'][round(datum.value / 25)]",
        "title": null,
        "grid": false,
        "ticks": false,
        "domainColor": "#a09a97",
        "domainWidth": 2,
        "labelFontSize": 25,
        "labelColor": "#2e2926",
        "labelPadding": 4,
        "labelOverlap": false,
        "labelFlush": false,
        "labelBound": false
      }
    }
  },
  "layer": [
    {
      "data": {"name": "k"},
      "mark": {"type": "bar", "size": 3, "color": "#b3bbf3"},
      "encoding": {
        "y": {
          "field": "v",
          "type": "quantitative",
          "scale": {"domain": [0, 201.5], "nice": false, "zero": true},
          "axis": {
            "orient": "left",
            "values": [0, 5, 10, 15],
            "labelExpr": "datum.value == 0 ? '0' : datum.value + 'M'",
            "title": null,
            "grid": false,
            "domainColor": "#c8c8c8",
            "domainWidth": 2,
            "tickColor": "#a8a8a8",
            "tickSize": 7,
            "labelFontSize": 25,
            "labelColor": "#2e2926",
            "labelPadding": 2,
            "labelFlush": false,
            "labelBaseline": "middle"
          }
        }
      }
    },
    {
      "layer": [
        {
          "data": {"name": "k"},
          "mark": {"type": "rule", "strokeWidth": 1.3},
          "encoding": {
            "y": {
              "field": "l",
              "type": "quantitative",
              "scale": {"domain": [42, 60], "nice": false, "zero": false},
              "axis": {
                "orient": "right",
                "values": [45, 50, 55, 60],
                "format": ".2f",
                "title": null,
                "grid": true,
                "gridColor": "#a9a9a9",
                "gridWidth": 1,
                "domain": false,
                "ticks": false,
                "labelFontSize": 25,
                "labelColor": "#2e2926",
                "labelPadding": 3,
                "labelFlush": false,
                "labelAlign": "left",
                "labelBaseline": "middle"
              }
            },
            "y2": {"field": "h"},
            "color": {
              "condition": {"test": "datum.c >= datum.o", "value": "#2a4f66"},
              "value": "#6e5566"
            }
          }
        },
        {
          "data": {"name": "k"},
          "mark": {"type": "bar", "size": 9},
          "encoding": {
            "y": {"field": "o", "type": "quantitative"},
            "y2": {"field": "c"},
            "color": {
              "condition": {"test": "datum.c >= datum.o", "value": "#00bc9b"},
              "value": "#e4434b"
            }
          }
        },
        {
          "data": {"name": "tl"},
          "mark": {"type": "line", "strokeWidth": 1.5},
          "encoding": {
            "y": {"field": "v", "type": "quantitative"},
            "stroke": {
              "field": "s",
              "type": "nominal",
              "scale": {"domain": ["ma20", "ma50", "ma100", "down", "up"], "range": ["#b6afaa", "#b36bff", "#5fcb85", "#ffb5c8", "#a9c8f2"]},
              "legend": null
            }
          }
        },
        {
          "data": {"name": "ma"},
          "mark": {"type": "line", "strokeWidth": 2},
          "encoding": {
            "y": {"field": "v", "type": "quantitative"},
            "stroke": {
              "field": "s",
              "type": "nominal",
              "scale": {"domain": ["ma20", "ma50", "ma100", "down", "up"], "range": ["#b6afaa", "#b36bff", "#5fcb85", "#ffb5c8", "#a9c8f2"]},
              "legend": null
            }
          }
        }
      ]
    },
    {
      "data": {"name": "lg"},
      "transform": [{"filter": "datum.s == 'ma20'"}],
      "mark": {"type": "point", "opacity": 0},
      "encoding": {
        "x": {"datum": 0, "type": "quantitative"},
        "y": {
          "field": "s",
          "type": "nominal",
          "scale": {"type": "point", "domain": ["ma20"], "range": [2, 3], "padding": 0},
          "axis": {"orient": "left", "title": null, "domain": false, "ticks": false, "grid": false, "labelAlign": "left", "labelBaseline": "alphabetic", "labelPadding": 84, "labelFontSize": 25, "labelFont": "DejaVu Sans", "labelColor": "#c6bfba", "labelOverlap": false, "labelBound": false, "labelFlush": false}
        }
      }
    },
    {
      "data": {"name": "lg"},
      "transform": [{"filter": "datum.s == 'ma50'"}],
      "mark": {"type": "point", "opacity": 0},
      "encoding": {
        "x": {"datum": 0, "type": "quantitative"},
        "y": {
          "field": "s",
          "type": "nominal",
          "scale": {"type": "point", "domain": ["ma50"], "range": [41.5, 42.5], "padding": 0},
          "axis": {"orient": "left", "title": null, "domain": false, "ticks": false, "grid": false, "labelAlign": "left", "labelBaseline": "alphabetic", "labelPadding": 84, "labelFontSize": 25, "labelFont": "DejaVu Sans", "labelColor": "#cc95ff", "labelOverlap": false, "labelBound": false, "labelFlush": false}
        }
      }
    },
    {
      "data": {"name": "lg"},
      "transform": [{"filter": "datum.s == 'ma100'"}],
      "mark": {"type": "point", "opacity": 0},
      "encoding": {
        "x": {"datum": 0, "type": "quantitative"},
        "y": {
          "field": "s",
          "type": "nominal",
          "scale": {"type": "point", "domain": ["ma100"], "range": [81, 82], "padding": 0},
          "axis": {"orient": "left", "title": null, "domain": false, "ticks": false, "grid": false, "labelAlign": "left", "labelBaseline": "alphabetic", "labelPadding": 84, "labelFontSize": 25, "labelFont": "DejaVu Sans", "labelColor": "#8ad9a6", "labelOverlap": false, "labelBound": false, "labelFlush": false}
        }
      }
    }
  ],
  "resolve": {"scale": {"y": "independent"}}
}
